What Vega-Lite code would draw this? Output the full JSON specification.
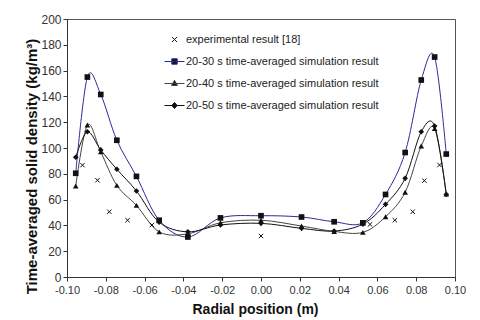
{
  "$schema": "https://vega.github.io/schema/vega-lite/v6.json",
  "autosize": "none",
  "width": 388,
  "height": 258,
  "padding": {"left": 67, "top": 19, "right": 25, "bottom": 43},
  "background": "white",
  "config": {
    "font": "Liberation Sans",
    "view": {"stroke": "#555", "strokeWidth": 1},
    "axis": {"grid": false, "domainColor": "#333", "tickColor": "#333", "tickSize": 4, "labelColor": "#333", "labelFont": "Liberation Sans", "titleFont": "Liberation Sans", "titleFontWeight": "bold", "titleColor": "#111", "labelFlush": false}
  },
  "datasets": {
    "pts": [
      {"series": "20-30 s time-averaged simulation result", "r": -0.0955, "rho": 80.4},
      {"series": "20-30 s time-averaged simulation result", "r": -0.0895, "rho": 155},
      {"series": "20-30 s time-averaged simulation result", "r": -0.0826, "rho": 141.5},
      {"series": "20-30 s time-averaged simulation result", "r": -0.0743, "rho": 106},
      {"series": "20-30 s time-averaged simulation result", "r": -0.0642, "rho": 78},
      {"series": "20-30 s time-averaged simulation result", "r": -0.0525, "rho": 44},
      {"series": "20-30 s time-averaged simulation result", "r": -0.0377, "rho": 31},
      {"series": "20-30 s time-averaged simulation result", "r": -0.0209, "rho": 45.8},
      {"series": "20-30 s time-averaged simulation result", "r": 0.0, "rho": 47.5},
      {"series": "20-30 s time-averaged simulation result", "r": 0.0209, "rho": 46.5},
      {"series": "20-30 s time-averaged simulation result", "r": 0.0377, "rho": 42.8},
      {"series": "20-30 s time-averaged simulation result", "r": 0.0525, "rho": 42},
      {"series": "20-30 s time-averaged simulation result", "r": 0.0642, "rho": 64},
      {"series": "20-30 s time-averaged simulation result", "r": 0.0743, "rho": 96.5},
      {"series": "20-30 s time-averaged simulation result", "r": 0.0826, "rho": 152.7},
      {"series": "20-30 s time-averaged simulation result", "r": 0.0895, "rho": 170.5},
      {"series": "20-30 s time-averaged simulation result", "r": 0.0955, "rho": 95.3},
      {"series": "20-40 s time-averaged simulation result", "r": -0.0955, "rho": 70.5},
      {"series": "20-40 s time-averaged simulation result", "r": -0.0895, "rho": 117.8},
      {"series": "20-40 s time-averaged simulation result", "r": -0.0826, "rho": 97},
      {"series": "20-40 s time-averaged simulation result", "r": -0.0743, "rho": 71},
      {"series": "20-40 s time-averaged simulation result", "r": -0.0642, "rho": 55.5},
      {"series": "20-40 s time-averaged simulation result", "r": -0.0525, "rho": 35},
      {"series": "20-40 s time-averaged simulation result", "r": -0.0377, "rho": 33.5},
      {"series": "20-40 s time-averaged simulation result", "r": -0.0209, "rho": 42},
      {"series": "20-40 s time-averaged simulation result", "r": 0.0, "rho": 44},
      {"series": "20-40 s time-averaged simulation result", "r": 0.0209, "rho": 39.5},
      {"series": "20-40 s time-averaged simulation result", "r": 0.0377, "rho": 35.3},
      {"series": "20-40 s time-averaged simulation result", "r": 0.0525, "rho": 34.6},
      {"series": "20-40 s time-averaged simulation result", "r": 0.0642, "rho": 46.7},
      {"series": "20-40 s time-averaged simulation result", "r": 0.0743, "rho": 65.7},
      {"series": "20-40 s time-averaged simulation result", "r": 0.0826, "rho": 101.5},
      {"series": "20-40 s time-averaged simulation result", "r": 0.0895, "rho": 115},
      {"series": "20-40 s time-averaged simulation result", "r": 0.0955, "rho": 64.3},
      {"series": "20-50 s time-averaged simulation result", "r": -0.0955, "rho": 92.8},
      {"series": "20-50 s time-averaged simulation result", "r": -0.0895, "rho": 112.6},
      {"series": "20-50 s time-averaged simulation result", "r": -0.0826, "rho": 98.5},
      {"series": "20-50 s time-averaged simulation result", "r": -0.0743, "rho": 83.5},
      {"series": "20-50 s time-averaged simulation result", "r": -0.0642, "rho": 66.7},
      {"series": "20-50 s time-averaged simulation result", "r": -0.0525, "rho": 42.5},
      {"series": "20-50 s time-averaged simulation result", "r": -0.0377, "rho": 35},
      {"series": "20-50 s time-averaged simulation result", "r": -0.0209, "rho": 40.3},
      {"series": "20-50 s time-averaged simulation result", "r": 0.0, "rho": 41.6},
      {"series": "20-50 s time-averaged simulation result", "r": 0.0209, "rho": 37.7},
      {"series": "20-50 s time-averaged simulation result", "r": 0.0377, "rho": 35.6},
      {"series": "20-50 s time-averaged simulation result", "r": 0.0525, "rho": 41},
      {"series": "20-50 s time-averaged simulation result", "r": 0.0642, "rho": 56.3},
      {"series": "20-50 s time-averaged simulation result", "r": 0.0743, "rho": 76.5},
      {"series": "20-50 s time-averaged simulation result", "r": 0.0826, "rho": 112.6},
      {"series": "20-50 s time-averaged simulation result", "r": 0.0895, "rho": 117},
      {"series": "20-50 s time-averaged simulation result", "r": 0.0955, "rho": 64},
      {"series": "experimental result [18]", "r": -0.092, "rho": 86.7},
      {"series": "experimental result [18]", "r": -0.0843, "rho": 75},
      {"series": "experimental result [18]", "r": -0.0782, "rho": 50.6},
      {"series": "experimental result [18]", "r": -0.0688, "rho": 44},
      {"series": "experimental result [18]", "r": -0.0562, "rho": 40.3},
      {"series": "experimental result [18]", "r": 0.0, "rho": 31.8},
      {"series": "experimental result [18]", "r": 0.0562, "rho": 40.8},
      {"series": "experimental result [18]", "r": 0.069, "rho": 44},
      {"series": "experimental result [18]", "r": 0.0782, "rho": 50.6},
      {"series": "experimental result [18]", "r": 0.0842, "rho": 74.7},
      {"series": "experimental result [18]", "r": 0.092, "rho": 86.8}
    ]
  },
  "data": {"name": "pts"},
  "encoding": {
    "x": {"field": "r", "type": "quantitative", "scale": {"domain": [-0.1, 0.1], "nice": false},
      "axis": {"values": [-0.1, -0.08, -0.06, -0.04, -0.02, 0, 0.02, 0.04, 0.06, 0.08, 0.1], "labelExpr": "replace(format(datum.value, '.2f'), '\u2212', '-')", "labelFontSize": 11, "labelPadding": 3, "title": "Radial position (m)", "titleFontSize": 14, "titleBaseline": "middle", "titleX": 188, "titleY": 32}},
    "y": {"field": "rho", "type": "quantitative", "scale": {"domain": [0, 200], "nice": false},
      "axis": {"values": [0, 20, 40, 60, 80, 100, 120, 140, 160, 180, 200], "labelFontSize": 12, "labelPadding": 2, "title": "Time-averaged solid density (kg/m³)", "titleFontSize": 15, "titleBaseline": "middle", "titleX": -36, "titleY": 147}}
  },
  "layer": [
    {
      "transform": [{"filter": "datum.series != 'experimental result [18]'"}],
      "mark": {"type": "line", "interpolate": "cardinal", "strokeWidth": 1},
      "encoding": {
        "color": {"field": "series", "type": "nominal", "legend": null,
          "scale": {"domain": ["20-30 s time-averaged simulation result", "20-40 s time-averaged simulation result", "20-50 s time-averaged simulation result"], "range": ["#2a2aa0", "#444444", "#111111"]}}
      }
    },
    {
      "transform": [{"filter": "datum.series == 'experimental result [18]'"}],
      "mark": {"type": "point", "shape": "M-0.8,-0.8L0.8,0.8M-0.8,0.8L0.8,-0.8", "filled": false, "stroke": "#111", "strokeWidth": 1, "opacity": 1, "size": 30}
    },
    {
      "transform": [{"filter": "datum.series == '20-30 s time-averaged simulation result'"}],
      "mark": {"type": "point", "shape": "square", "filled": true, "fill": "#111", "opacity": 1, "size": 32}
    },
    {
      "transform": [{"filter": "datum.series == '20-40 s time-averaged simulation result'"}],
      "mark": {"type": "point", "shape": "triangle-up", "filled": true, "fill": "#111", "opacity": 1, "size": 32}
    },
    {
      "transform": [{"filter": "datum.series == '20-50 s time-averaged simulation result'"}],
      "mark": {"type": "point", "shape": "diamond", "filled": true, "fill": "#111", "opacity": 1, "size": 32}
    },
    {
      "transform": [{"filter": "false"}],
      "mark": {"type": "point", "filled": true, "fill": "#111", "strokeWidth": 1, "opacity": 1},
      "encoding": {
        "shape": {"field": "series", "type": "nominal",
          "scale": {"domain": ["experimental result [18]", "20-30 s time-averaged simulation result", "20-40 s time-averaged simulation result", "20-50 s time-averaged simulation result"], "range": ["M-0.25,-0.25L0.25,0.25M-0.25,0.25L0.25,-0.25", "M-1,0H1M-0.27,-0.27H0.27V0.27H-0.27Z", "M-1,0H1M0,-0.32L0.3,0.2H-0.3Z", "M-1,0H1M0,-0.3L0.27,0L0,0.3L-0.27,0Z"]},
          "legend": {"title": null, "orient": "none", "legendX": 97, "legendY": 10, "padding": 0, "rowPadding": 6, "symbolSize": 400, "symbolStrokeWidth": 1, "labelFontSize": 11, "labelColor": "#222", "labelOffset": 1, "labelLimit": 400}},
        "stroke": {"field": "series", "type": "nominal",
          "scale": {"domain": ["experimental result [18]", "20-30 s time-averaged simulation result", "20-40 s time-averaged simulation result", "20-50 s time-averaged simulation result"], "range": ["#111111", "#2a2aa0", "#444444", "#111111"]},
          "legend": {"title": null, "orient": "none", "legendX": 97, "legendY": 10, "padding": 0, "rowPadding": 6, "symbolSize": 400, "symbolStrokeWidth": 1, "labelFontSize": 11, "labelColor": "#222", "labelOffset": 1, "labelLimit": 400}}
      }
    }
  ]
}
